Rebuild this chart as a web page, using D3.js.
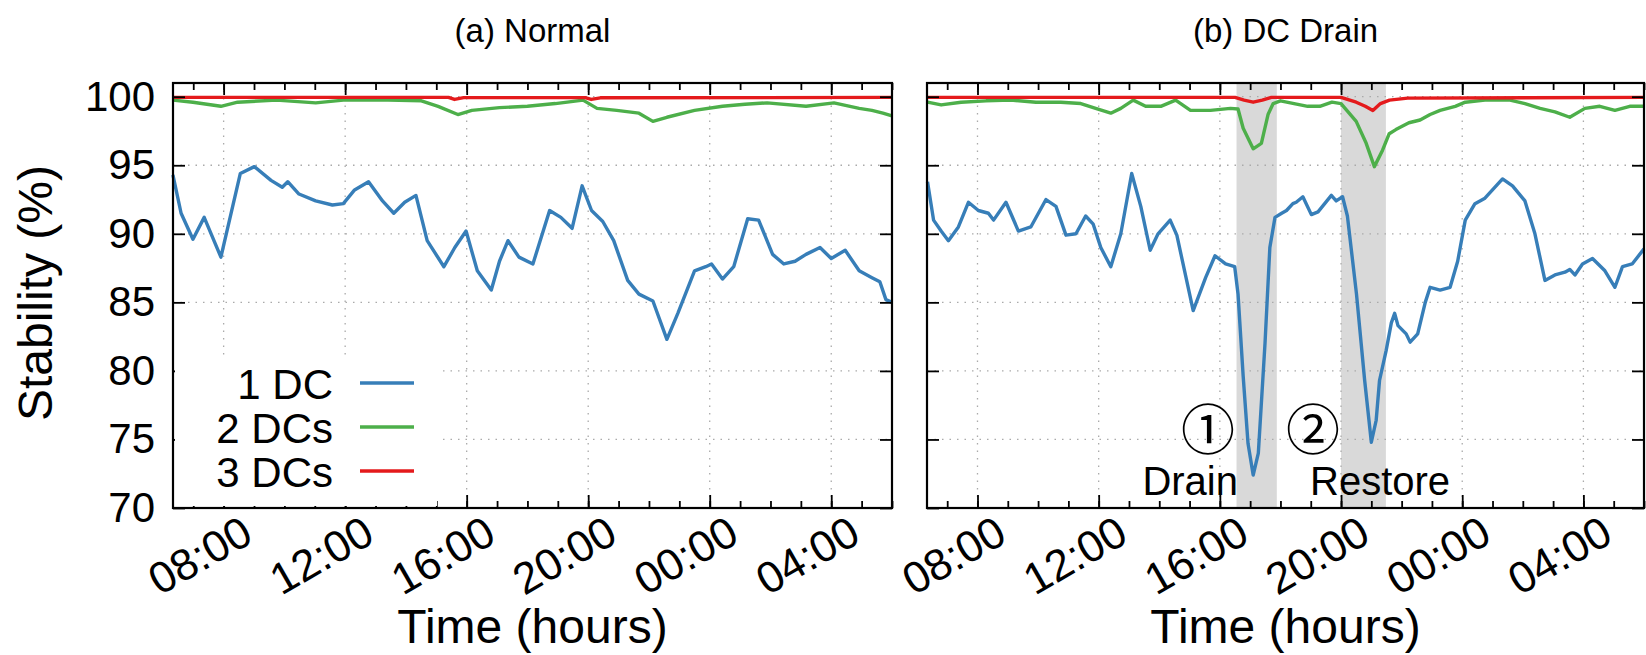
<!DOCTYPE html>
<html>
<head>
<meta charset="utf-8">
<script src="https://cdn.jsdelivr.net/npm/d3@7"></script>
<style>
  body { margin: 0; background: #fff; }
  text { font-family: "Liberation Sans", Arial, Helvetica, sans-serif; fill: #000; }
</style>
</head>
<body>
<div class="chart"></div>
<script>
var svgWidth = 1646;
var svgHeight = 655;

// times are hours from midnight of day one (24+ means the next day)
var normalTime1 = [6.33, 6.6, 6.99, 7.36, 7.91, 8.55, 9.01, 9.56, 9.93, 10.11, 10.48, 11.03, 11.58, 11.94, 12.31, 12.77, 13.23, 13.60, 13.96, 14.33, 14.70, 15.25, 15.61, 15.98, 16.35, 16.81, 17.08, 17.36, 17.72, 18.18, 18.73, 19.10, 19.47, 19.80, 20.11, 20.48, 20.84, 21.30, 21.67, 22.13, 22.59, 22.95, 23.50, 23.87, 24.06, 24.42, 24.79, 25.25, 25.61, 26.07, 26.44, 26.81, 27.17, 27.63, 28.00, 28.46, 28.92, 29.34, 29.6, 29.8, 30.0];
var normal1DC = [94.3, 91.5, 89.6, 91.2, 88.3, 94.4, 94.9, 93.9, 93.4, 93.8, 92.9, 92.4, 92.1, 92.2, 93.2, 93.8, 92.4, 91.5, 92.3, 92.8, 89.5, 87.6, 89.0, 90.2, 87.3, 85.9, 88.0, 89.5, 88.3, 87.8, 91.7, 91.2, 90.4, 93.5, 91.7, 90.9, 89.5, 86.6, 85.6, 85.1, 82.3, 84.2, 87.3, 87.6, 87.8, 86.7, 87.6, 91.1, 91.0, 88.5, 87.8, 88.0, 88.5, 89.0, 88.2, 88.8, 87.3, 86.8, 86.5, 85.2, 85.0];

var normalTime2 = [6.33, 6.99, 7.91, 8.46, 9.74, 11.03, 11.94, 13.41, 14.51, 15.06, 15.71, 16.17, 17.08, 18.0, 18.92, 19.83, 20.29, 20.94, 21.67, 22.13, 22.59, 23.5, 24.42, 25.16, 25.89, 27.17, 28.09, 28.92, 29.34, 29.7, 30.0];
var normal2DC = [99.75, 99.6, 99.3, 99.6, 99.75, 99.55, 99.75, 99.75, 99.7, 99.3, 98.7, 99.0, 99.2, 99.3, 99.5, 99.75, 99.15, 99.0, 98.8, 98.2, 98.5, 99.0, 99.3, 99.45, 99.55, 99.3, 99.55, 99.15, 99.0, 98.8, 98.6];

var normalTime3 = [6.33, 15.4, 15.6, 15.9, 19.9, 20.1, 20.4, 30.0];
var normal3DC = [99.95, 99.95, 99.8, 99.93, 99.93, 99.8, 99.92, 99.95];

var drainTime1 = [6.35, 6.55, 6.80, 7.04, 7.37, 7.70, 8.03, 8.36, 8.53, 8.94, 9.35, 9.76, 10.26, 10.59, 10.92, 11.25, 11.57, 11.82, 12.07, 12.40, 12.73, 13.09, 13.39, 13.70, 13.96, 14.36, 14.58, 15.12, 15.53, 15.84, 16.19, 16.49, 16.6, 16.77, 16.93, 17.10, 17.27, 17.49, 17.65, 17.82, 18.04, 18.2, 18.41, 18.52, 18.74, 19.02, 19.24, 19.68, 19.84, 20.05, 20.21, 20.51, 20.78, 21.0, 21.16, 21.27, 21.49, 21.66, 21.77, 21.88, 22.15, 22.28, 22.53, 22.78, 22.94, 23.27, 23.6, 23.85, 24.1, 24.42, 24.75, 25.33, 25.66, 26.07, 26.4, 26.73, 27.06, 27.39, 27.55, 27.72, 27.97, 28.3, 28.71, 29.04, 29.29, 29.61, 30.0];
var drain1DC = [93.8, 91.0, 90.2, 89.5, 90.5, 92.3, 91.7, 91.5, 91.0, 92.3, 90.2, 90.5, 92.5, 92.0, 89.9, 90.0, 91.3, 90.7, 89.0, 87.6, 90.0, 94.4, 92.0, 88.8, 90.0, 91.0, 89.9, 84.4, 86.8, 88.4, 87.8, 87.6, 85.6, 79.6, 74.7, 72.4, 74.0, 82.0, 89.0, 91.2, 91.5, 91.7, 92.2, 92.3, 92.7, 91.4, 91.6, 92.8, 92.4, 92.7, 91.3, 85.6, 79.3, 74.8, 76.4, 79.3, 81.5, 83.5, 84.2, 83.3, 82.7, 82.1, 82.7, 85.0, 86.1, 85.9, 86.1, 88.0, 91.0, 92.2, 92.6, 94.0, 93.5, 92.4, 90.0, 86.6, 87.0, 87.2, 87.4, 87.0, 87.8, 88.2, 87.3, 86.1, 87.6, 87.8, 88.9];

var drainTime2 = [6.35, 6.80, 7.46, 8.28, 9.10, 9.93, 10.75, 11.41, 11.90, 12.40, 12.73, 13.14, 13.55, 14.05, 14.54, 15.03, 15.69, 16.35, 16.6, 16.77, 17.1, 17.37, 17.59, 17.76, 18.0, 18.9, 19.3, 19.7, 20.0, 20.5, 20.83, 21.1, 21.37, 21.59, 21.81, 22.24, 22.61, 22.94, 23.27, 23.77, 24.1, 24.75, 25.58, 26.07, 26.57, 27.06, 27.55, 28.05, 28.54, 29.04, 29.53, 30.0];
var drain2DC = [99.6, 99.4, 99.6, 99.7, 99.75, 99.6, 99.6, 99.5, 99.15, 98.8, 99.15, 99.75, 99.3, 99.3, 99.75, 99.0, 99.0, 99.15, 99.1, 97.7, 96.2, 96.6, 98.7, 99.5, 99.7, 99.3, 99.3, 99.6, 99.5, 98.2, 96.6, 94.9, 96.1, 97.3, 97.6, 98.1, 98.3, 98.7, 99.0, 99.3, 99.6, 99.75, 99.75, 99.5, 99.15, 98.9, 98.5, 99.15, 99.3, 99.0, 99.3, 99.3];

var drainTime3 = [6.35, 16.5, 16.8, 17.1, 17.4, 17.7, 20.0, 20.5, 20.8, 21.05, 21.3, 21.6, 22.2, 30.0];
var drain3DC = [99.95, 99.95, 99.75, 99.6, 99.75, 99.95, 99.95, 99.6, 99.3, 99.0, 99.5, 99.75, 99.9, 99.95];

// shaded windows in panel (b): [start, end] in hours
var drainWindows = [[16.55, 17.88], [20.0, 21.48]];

var seriesNames = ["1 DC", "2 DCs", "3 DCs"];
var seriesColors = ["#377eb8", "#4daf4a", "#e41a1c"];
var yTicks = [70, 75, 80, 85, 90, 95, 100];

var plotTop = 83;
var plotBottom = 508;
var font = "Liberation Sans, Arial, sans-serif";

function toDate(h) {
  return new Date(new Date(2020, 0, 1).getTime() + h * 3600000);
}

var svg = d3.select(".chart")
  .append("svg")
  .attr("width", svgWidth)
  .attr("height", svgHeight);

var yScale = d3.scaleLinear()
  .domain([70, 101])
  .range([plotBottom, plotTop]);

function drawPanel(x0, x1, title, series, windows, showLabels) {
  var xScale = d3.scaleTime()
    .domain([toDate(6 + 20 / 60), toDate(30)])
    .range([x0, x1]);

  var g = svg.append("g");

  // grey windows behind everything
  g.selectAll(".win")
    .data(windows)
    .enter()
    .append("rect")
    .attr("x", d => xScale(toDate(d[0])))
    .attr("y", plotTop)
    .attr("width", d => xScale(toDate(d[1])) - xScale(toDate(d[0])))
    .attr("height", plotBottom - plotTop)
    .attr("fill", "#d9d9d9");

  // dotted grid
  var majors = xScale.ticks(d3.timeHour.every(4));
  g.selectAll(".vgrid")
    .data(majors)
    .enter()
    .append("line")
    .attr("x1", d => xScale(d)).attr("x2", d => xScale(d))
    .attr("y1", plotTop).attr("y2", plotBottom)
    .attr("stroke", "#aaa").attr("stroke-width", 1.3)
    .attr("stroke-dasharray", "1.5,6");

  g.selectAll(".hgrid")
    .data(yTicks.slice(1))
    .enter()
    .append("line")
    .attr("x1", x0).attr("x2", x1)
    .attr("y1", d => yScale(d)).attr("y2", d => yScale(d))
    .attr("stroke", "#aaa").attr("stroke-width", 1.3)
    .attr("stroke-dasharray", "1.5,6");

  // the lines
  var line = d3.line()
    .x(d => xScale(toDate(d[0])))
    .y(d => yScale(d[1]));

  series.forEach(function (s, i) {
    var pts = s.t.map((t, k) => [t, s.v[k]]);
    g.append("path")
      .datum(pts)
      .attr("d", line)
      .attr("fill", "none")
      .attr("stroke", seriesColors[i])
      .attr("stroke-width", 3.4)
      .attr("stroke-linejoin", "round");
  });

  // ticks (inward) on all four sides
  function clean(sel) {
    sel.select(".domain").remove();
    sel.selectAll(".tick line").attr("stroke", "#000").attr("stroke-width", 1.8);
  }

  g.append("g")
    .attr("transform", `translate(0, ${plotBottom})`)
    .call(d3.axisBottom(xScale).ticks(d3.timeHour.every(1)).tickSize(-7).tickFormat(""))
    .call(clean);
  g.append("g")
    .attr("transform", `translate(0, ${plotTop})`)
    .call(d3.axisTop(xScale).ticks(d3.timeHour.every(1)).tickSize(-7).tickFormat(""))
    .call(clean);
  g.append("g")
    .attr("transform", `translate(0, ${plotTop})`)
    .call(d3.axisTop(xScale).ticks(d3.timeHour.every(4)).tickSize(-12).tickFormat(""))
    .call(clean);

  var xAxis = g.append("g")
    .attr("transform", `translate(0, ${plotBottom})`)
    .call(d3.axisBottom(xScale).ticks(d3.timeHour.every(4)).tickSize(-13)
      .tickFormat(d3.timeFormat("%H:%M")))
    .call(clean);

  xAxis.selectAll(".tick text")
    .attr("y", 0).attr("dy", 0)
    .attr("text-anchor", "end")
    .attr("transform", "translate(31, 33) rotate(-30)")
    .style("font-size", "44px")
    .style("font-family", font);

  var yLeft = g.append("g")
    .attr("transform", `translate(${x0}, 0)`)
    .call(d3.axisLeft(yScale).tickValues(yTicks).tickSize(-12).tickPadding(18))
    .call(clean);
  yLeft.selectAll(".tick text")
    .style("font-size", "42px")
    .style("font-family", font)
    .style("display", showLabels ? null : "none");

  g.append("g")
    .attr("transform", `translate(${x1}, 0)`)
    .call(d3.axisRight(yScale).tickValues(yTicks).tickSize(-12).tickFormat(""))
    .call(clean);

  // frame
  g.append("rect")
    .attr("x", x0).attr("y", plotTop)
    .attr("width", x1 - x0).attr("height", plotBottom - plotTop)
    .attr("fill", "none").attr("stroke", "#000").attr("stroke-width", 2.2);

  // titles
  g.append("text")
    .attr("x", (x0 + x1) / 2).attr("y", 42)
    .attr("text-anchor", "middle")
    .style("font-size", "33px")
    .text(title);

  g.append("text")
    .attr("x", (x0 + x1) / 2).attr("y", 643)
    .attr("text-anchor", "middle")
    .style("font-size", "48px")
    .text("Time (hours)");

  return g;
}

var left = drawPanel(173, 892, "(a) Normal", [
  { t: normalTime1, v: normal1DC },
  { t: normalTime2, v: normal2DC },
  { t: normalTime3, v: normal3DC }
], [], true);

var right = drawPanel(927, 1644, "(b) DC Drain", [
  { t: drainTime1, v: drain1DC },
  { t: drainTime2, v: drain2DC },
  { t: drainTime3, v: drain3DC }
], drainWindows, false);

// y label
svg.append("text")
  .attr("transform", "translate(52, 293) rotate(-90)")
  .attr("text-anchor", "middle")
  .style("font-size", "48px")
  .text("Stability (%)");

// opaque legend in panel (a)
var legend = left.append("g");
legend.append("rect")
  .attr("x", 175).attr("y", 356)
  .attr("width", 262).attr("height", 150)
  .attr("fill", "#fff");

seriesNames.forEach(function (name, i) {
  var ly = 383 + i * 44;
  legend.append("text")
    .attr("x", 333).attr("y", ly + 16)
    .attr("text-anchor", "end")
    .style("font-size", "42px")
    .text(name);
  legend.append("line")
    .attr("x1", 360).attr("x2", 414)
    .attr("y1", ly).attr("y2", ly)
    .attr("stroke", seriesColors[i])
    .attr("stroke-width", 3.4);
});

// annotations in panel (b)
var marks = [["①", 1208], ["②", 1313]];
marks.forEach(function (m) {
  right.append("text")
    .attr("x", m[1]).attr("y", 450)
    .attr("text-anchor", "middle")
    .style("font-family", "Noto Sans CJK JP, DejaVu Sans, sans-serif")
    .style("font-size", "54px")
    .text(m[0]);
});
right.append("text")
  .attr("x", 1238).attr("y", 495)
  .attr("text-anchor", "end")
  .style("font-size", "40px")
  .text("Drain");
right.append("text")
  .attr("x", 1310).attr("y", 495)
  .style("font-size", "40px")
  .text("Restore");
</script>
</body>
</html>
